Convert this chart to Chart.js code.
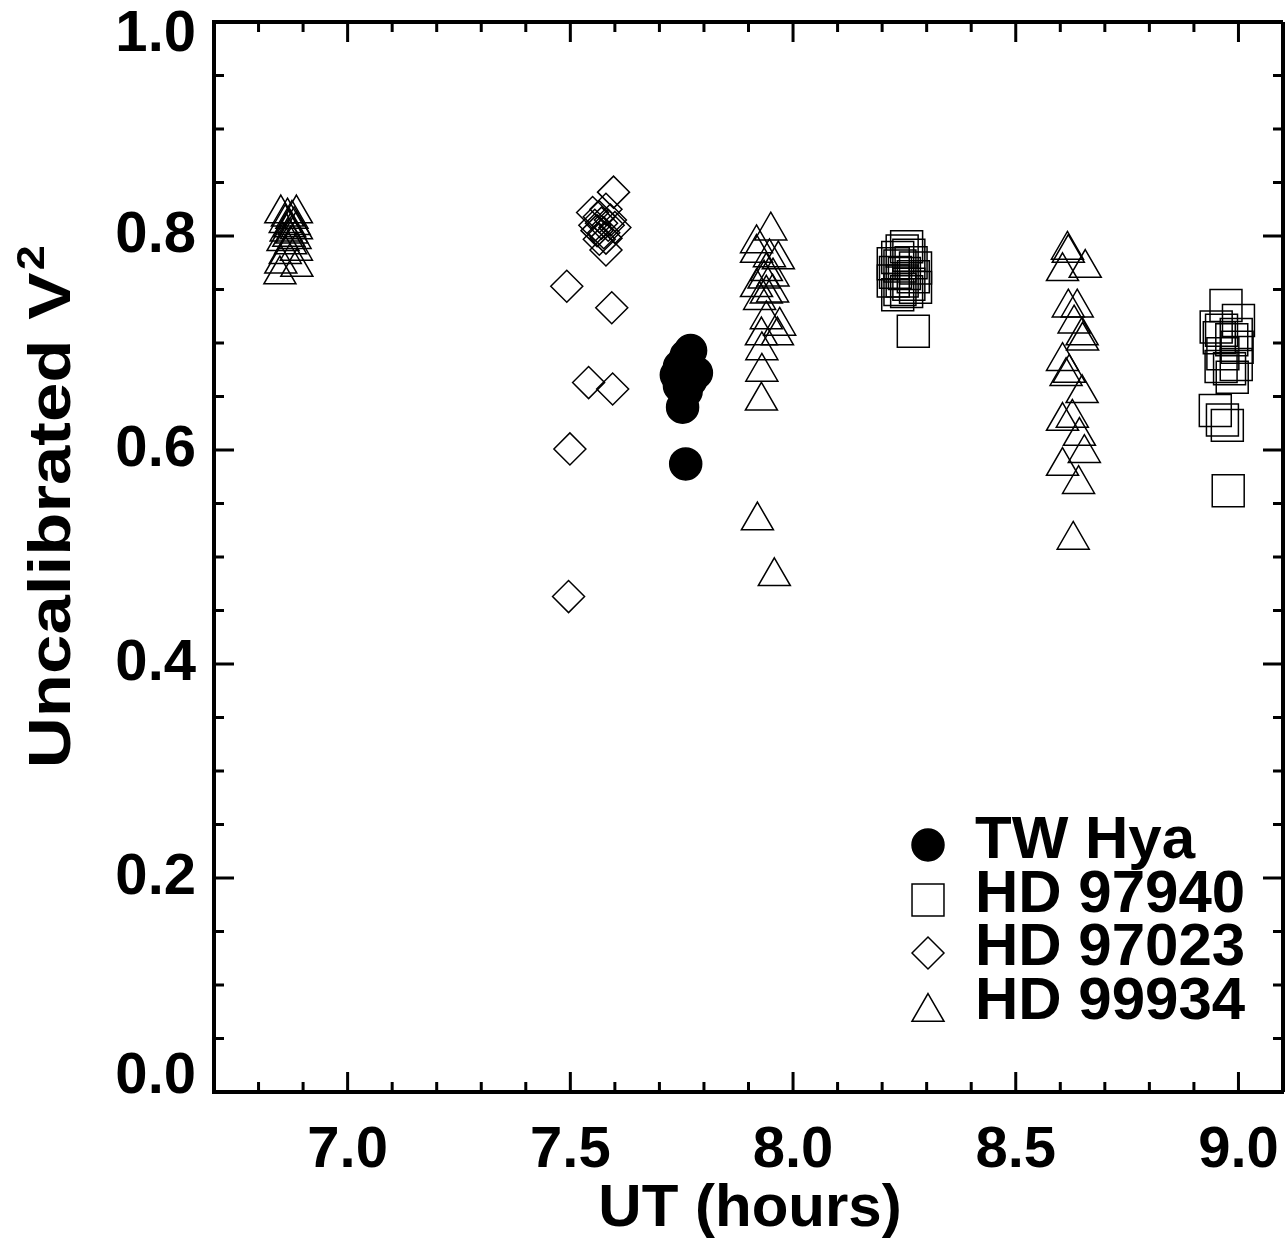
<!DOCTYPE html>
<html>
<head>
<meta charset="utf-8">
<script src="https://cdn.jsdelivr.net/npm/chart.js@4.4.0/dist/chart.umd.min.js"></script>
<style>
  body { margin: 0; background: #fff; }
  #wrap { width: 1287px; height: 1247px; }
</style>
</head>
<body>
<div id="wrap"><canvas id="chart" width="1287" height="1247"></canvas></div>
<script>
const FONT = '"Liberation Sans", Arial, Helvetica, sans-serif';

// TW Hya - filled circles
const twHyaX = [7.770, 7.760, 7.745, 7.738, 7.752, 7.783, 7.770, 7.745, 7.760, 7.752, 7.759];
const twHyaY = [0.693, 0.688, 0.678, 0.670, 0.672, 0.672, 0.665, 0.660, 0.655, 0.640, 0.587];

// HD 97940 - open squares
const hd97940X = [8.255, 8.245, 8.235, 8.260, 8.225, 8.240, 8.265, 8.275, 8.230, 8.250, 8.270, 8.225, 8.245, 8.260, 8.240, 8.255, 8.275, 8.235, 8.270,
                  8.972, 9.000, 8.950, 8.962, 8.995, 8.957, 8.985, 8.997, 8.965, 8.961, 8.980, 8.995, 8.986, 8.948, 8.964, 8.975, 8.977];
const hd97940Y = [0.790, 0.786, 0.780, 0.782, 0.774, 0.772, 0.775, 0.770, 0.766, 0.765, 0.762, 0.758, 0.758, 0.755, 0.750, 0.748, 0.752, 0.745, 0.711,
                  0.735, 0.721, 0.715, 0.712, 0.708, 0.705, 0.703, 0.696, 0.690, 0.678, 0.676, 0.680, 0.668, 0.637, 0.628, 0.623, 0.562];

// HD 97023 - open diamonds
const hd97023X = [7.597, 7.550, 7.565, 7.580, 7.570, 7.585, 7.560, 7.575, 7.590, 7.555, 7.580, 7.565, 7.600, 7.580,
                  7.492, 7.593, 7.541, 7.595, 7.499, 7.496];
const hd97023Y = [0.841, 0.822, 0.818, 0.825, 0.812, 0.810, 0.805, 0.803, 0.815, 0.810, 0.798, 0.797, 0.808, 0.787,
                  0.753, 0.733, 0.663, 0.657, 0.601, 0.463];

// HD 99934 - open triangles
const hd99934X = [6.850, 6.885, 6.865, 6.875, 6.860, 6.880, 6.870, 6.885, 6.862, 6.875, 6.868, 6.882, 6.855, 6.872, 6.885, 6.860, 6.850, 6.886, 6.848,
                  7.950, 7.918, 7.918, 7.947, 7.967, 7.940, 7.935, 7.955, 7.918, 7.940, 7.954, 7.925, 7.940, 7.929, 7.970, 7.965, 7.930, 7.930, 7.929, 7.920, 7.958,
                  8.616, 8.618, 8.605, 8.656, 8.618, 8.638, 8.631, 8.649, 8.650, 8.605, 8.613, 8.620, 8.649, 8.605, 8.627, 8.643, 8.654, 8.605, 8.641, 8.629];
const hd99934Y = [0.821, 0.821, 0.818, 0.816, 0.812, 0.810, 0.808, 0.806, 0.804, 0.802, 0.799, 0.797, 0.795, 0.792, 0.786, 0.783, 0.774, 0.771, 0.764,
                  0.805, 0.793, 0.784, 0.780, 0.778, 0.767, 0.760, 0.762, 0.752, 0.746, 0.747, 0.740, 0.722, 0.707, 0.716, 0.707, 0.693, 0.673, 0.646, 0.534, 0.482,
                  0.787, 0.784, 0.767, 0.770, 0.733, 0.733, 0.718, 0.707, 0.702, 0.683, 0.669, 0.672, 0.653, 0.627, 0.630, 0.613, 0.597, 0.585, 0.568, 0.516];

const xTicks = ['7.0', '7.5', '8.0', '8.5', '9.0'];
const yTicks = ['0.0', '0.2', '0.4', '0.6', '0.8', '1.0'];
const xRange = [6.7, 9.1];
const yRange = [0.0, 1.0];

function pts(xs, ys) {
    return xs.map((x, i) => ({ x: x, y: ys[i] }));
}

const seriesStyle = [
    { label: 'TW Hya',   style: 'circle',   radius: 16,   fill: '#000' },
    { label: 'HD 97940', style: 'rect',     radius: 22.6, fill: 'rgba(0,0,0,0)' },
    { label: 'HD 97023', style: 'rectRot',  radius: 16,   fill: 'rgba(0,0,0,0)' },
    { label: 'HD 99934', style: 'triangle', radius: 18.5, fill: 'rgba(0,0,0,0)' }
];
const seriesData = [pts(twHyaX, twHyaY), pts(hd97940X, hd97940Y), pts(hd97023X, hd97023Y), pts(hd99934X, hd99934Y)];

// frame, inward ticks on all four sides, y labels, legend and axis titles
const framePlugin = {
    id: 'frame',
    afterDraw(chart) {
        const ctx = chart.ctx;
        const a = chart.chartArea;
        const xs = chart.scales.x, ys = chart.scales.y;
        ctx.save();
        ctx.strokeStyle = '#000';
        ctx.lineWidth = 4;
        ctx.beginPath();
        ctx.moveTo(a.left, a.top); ctx.lineTo(a.right, a.top);
        ctx.moveTo(a.right, a.top); ctx.lineTo(a.right, a.bottom);
        ctx.stroke();

        ctx.lineWidth = 3;
        ctx.beginPath();
        for (let i = Math.ceil(xRange[0] * 10); i <= Math.floor(xRange[1] * 10); i++) {
            const px = xs.getPixelForValue(i / 10);
            const len = i % 5 === 0 ? 20 : 10;
            ctx.moveTo(px, a.bottom); ctx.lineTo(px, a.bottom - len);
            ctx.moveTo(px, a.top); ctx.lineTo(px, a.top + len);
        }
        for (let i = 0; i <= 20; i++) {
            const py = ys.getPixelForValue(i * 0.05);
            const len = i % 4 === 0 ? 20 : 10;
            ctx.moveTo(a.left, py); ctx.lineTo(a.left + len, py);
            ctx.moveTo(a.right, py); ctx.lineTo(a.right - len, py);
        }
        ctx.stroke();

        // y tick labels (end labels nudged inside the frame, as in the original)
        ctx.font = 'bold 58px ' + FONT;
        ctx.fillStyle = '#000';
        ctx.textAlign = 'right';
        ctx.textBaseline = 'middle';
        yTicks.forEach((t, i) => {
            let py = ys.getPixelForValue(parseFloat(t));
            if (i === 0) py -= 15;
            if (i === yTicks.length - 1) py += 13;
            ctx.fillText(t, a.left - 18, py);
        });

        // legend
        ctx.font = 'bold 60px ' + FONT;
        ctx.textBaseline = 'alphabetic';
        ctx.textAlign = 'left';
        const markY = [845, 900, 953, 1012];
        seriesStyle.forEach((s, i) => {
            ctx.fillStyle = s.fill;
            ctx.strokeStyle = '#000';
            ctx.lineWidth = 1.5;
            Chart.helpers.drawPoint(ctx, { pointStyle: s.style, radius: s.radius, borderWidth: 1.5, rotation: 0 }, 928, markY[i]);
            ctx.fillStyle = '#000';
            ctx.fillText(s.label, 975, 858 + i * 53.5);
        });

        // axis titles
        ctx.textAlign = 'center';
        ctx.fillText('UT (hours)', 750, 1226);

        ctx.translate(70, 508);
        ctx.rotate(-Math.PI / 2);
        ctx.scale(1.18, 1);
        const main = 'Uncalibrated V';
        ctx.font = 'bold 60px ' + FONT;
        const wMain = ctx.measureText(main).width;
        ctx.font = 'bold 38px ' + FONT;
        const wSup = ctx.measureText('2').width;
        const x0 = -(wMain + wSup) / 2;
        ctx.textAlign = 'left';
        ctx.font = 'bold 60px ' + FONT;
        ctx.fillText(main, x0, 0);
        ctx.font = 'bold 38px ' + FONT;
        ctx.fillText('2', x0 + wMain + 2, -26);
        ctx.restore();
    }
};

const tickFont = { family: FONT, size: 58, weight: 'bold' };

new Chart(document.getElementById('chart'), {
    type: 'scatter',
    data: {
        datasets: seriesStyle.map((s, i) => ({
            label: s.label,
            data: seriesData[i],
            pointStyle: s.style,
            pointRadius: s.radius,
            pointHoverRadius: s.radius,
            backgroundColor: s.fill,
            borderColor: '#000',
            borderWidth: 1.5
        }))
    },
    options: {
        responsive: false,
        animation: false,
        devicePixelRatio: 1,
        layout: { autoPadding: false, padding: { top: 22, right: 4, left: 0, bottom: 0 } },
        plugins: { legend: { display: false }, tooltip: { enabled: false } },
        scales: {
            x: {
                type: 'linear',
                min: xRange[0],
                max: xRange[1],
                afterBuildTicks: s => { s.ticks = xTicks.map(t => ({ value: parseFloat(t) })); },
                afterFit: s => { s.height = 155; s.paddingLeft = 0; s.paddingRight = 0; },
                ticks: { callback: v => v.toFixed(1), font: tickFont, color: '#000', padding: 24, maxRotation: 0, autoSkip: false },
                grid: { display: false, drawTicks: false },
                border: { display: true, color: '#000', width: 4 }
            },
            y: {
                type: 'linear',
                min: yRange[0],
                max: yRange[1],
                afterBuildTicks: s => { s.ticks = yTicks.map(t => ({ value: parseFloat(t) })); },
                afterFit: s => { s.width = 214; s.paddingTop = 0; s.paddingBottom = 0; },
                ticks: { display: false },
                grid: { display: false, drawTicks: false },
                border: { display: true, color: '#000', width: 4 }
            }
        }
    },
    plugins: [framePlugin]
});
</script>
</body>
</html>
